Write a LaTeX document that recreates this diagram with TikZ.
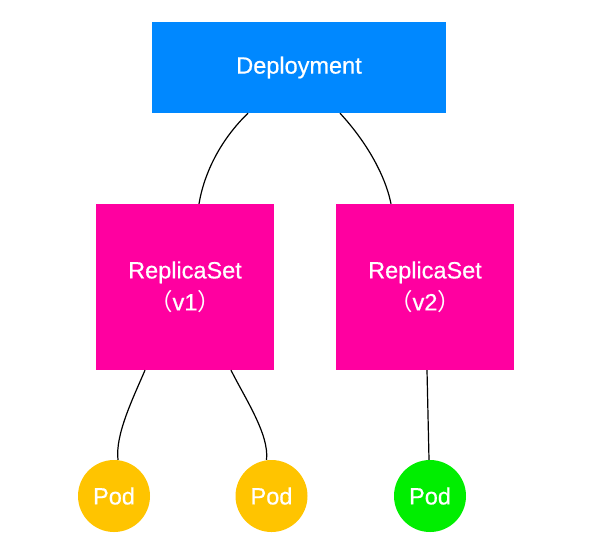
\documentclass[tikz,border=0pt]{standalone}
\usepackage{fontspec}
\setmainfont{Liberation Sans}
\newfontfamily\lblfont{Liberation Sans}[FakeBold=0.6]
\newfontfamily\cjk{Noto Sans CJK SC}
\usetikzlibrary{calc}
\definecolor{depblue}{RGB}{0,136,255}
\definecolor{rsmag}{RGB}{255,0,160}
\definecolor{podyel}{RGB}{255,196,0}
\definecolor{podgrn}{RGB}{0,238,0}
\tikzset{
  lbl/.style={text=white,font=\lblfont\fontsize{23.5}{32}\selectfont,align=center,inner sep=0pt},
  box/.style={lbl,rectangle,minimum width=#1},
  dep/.style={box=294pt,minimum height=91pt,fill=depblue},
  rs/.style={box=178pt,minimum height=166pt,fill=rsmag},
  pod/.style={lbl,circle,minimum size=72pt,fill=#1},
  link/.style={line width=1.2pt,black}
}
\begin{document}
\begin{tikzpicture}[x=1pt,y=-1pt]
\useasboundingbox (0,0) rectangle (609,552);
\node[dep] (d) at (299,67.5) {Deployment};
\node[rs] (r1) at (185,287) {ReplicaSet\\{\cjk （}v1{\cjk ）}};
\node[rs] (r2) at (425,287) {ReplicaSet\\{\cjk （}v2{\cjk ）}};
\node[pod=podyel] (p1) at (114,496) {Pod};
\node[pod=podyel] (p2) at (271.5,496) {Pod};
\node[pod=podgrn] (p3) at (430,496) {Pod};
\draw[link] ([xshift=-51pt]d.south) .. controls +(-28,27) and +(5,-30) .. ([xshift=14pt]r1.north);
\draw[link] ([xshift=41pt]d.south) .. controls +(25,27) and +(-6,-30) .. ([xshift=-34pt]r2.north);
\draw[link] ([xshift=-40pt]r1.south) .. controls +(-12,28) and +(-3,-25) .. ([xshift=4pt]p1.north);
\draw[link] ([xshift=46pt]r1.south) .. controls +(14,28) and +(3,-25) .. ([xshift=-5pt]p2.north);
\draw[link] ([xshift=2pt]r2.south) -- ([xshift=-1pt]p3.north);
\end{tikzpicture}
\end{document}
